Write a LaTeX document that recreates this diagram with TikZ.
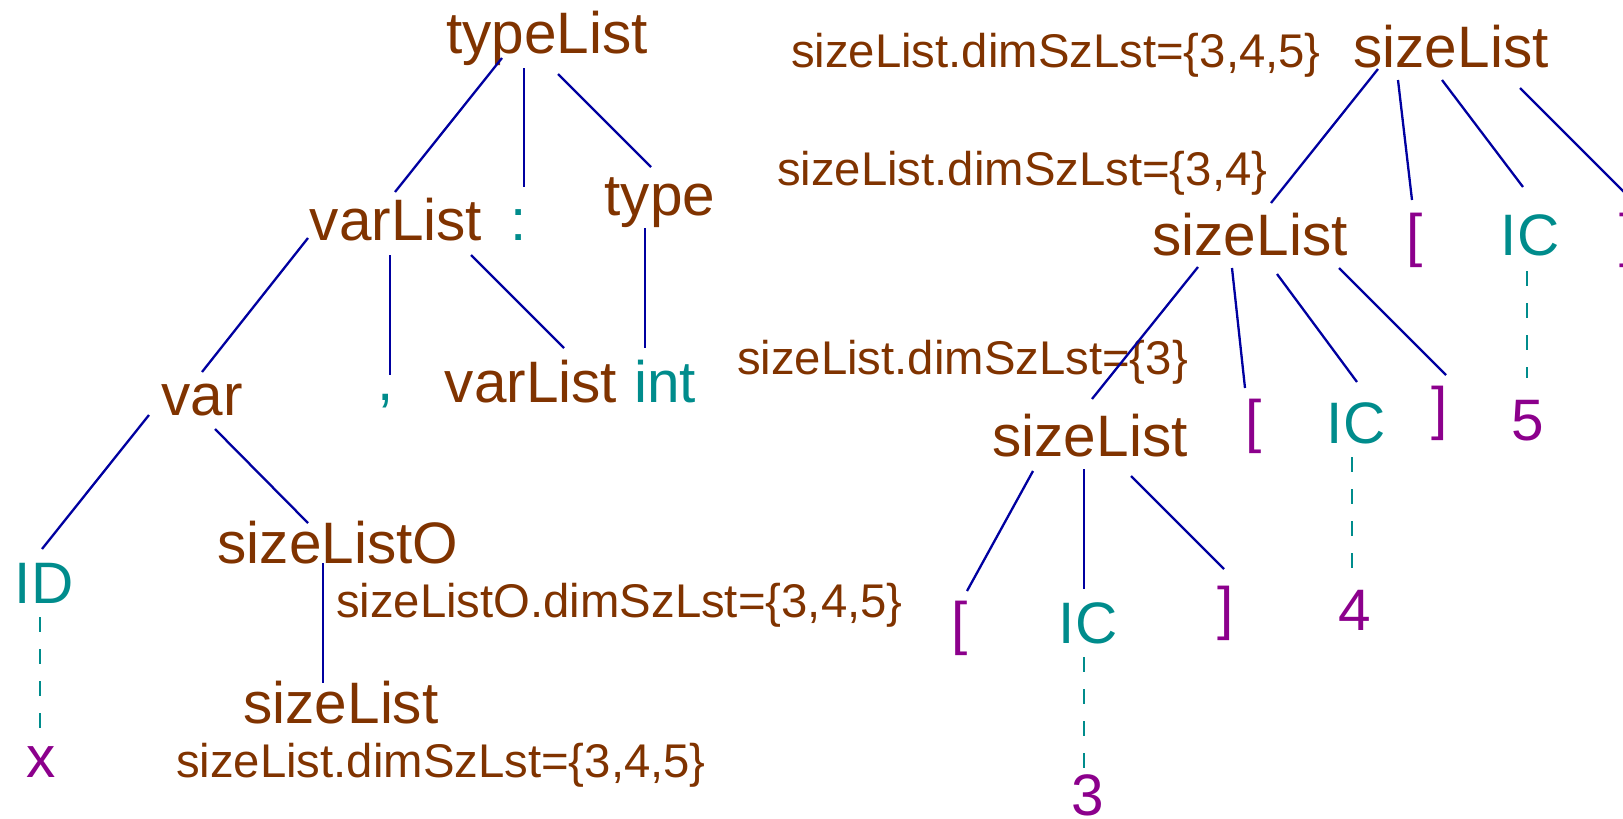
\documentclass[tikz,border=0pt]{standalone}
\usepackage{fontspec}
\setmainfont{Liberation Sans}
\definecolor{ntbrown}{RGB}{128,51,0}
\definecolor{tokteal}{RGB}{0,140,140}
\definecolor{lexpurple}{RGB}{140,0,140}
\definecolor{edgeblue}{RGB}{0,0,160}
\tikzset{
  sym/.style={inner sep=0pt, outer sep=0pt, anchor=base, font=\fontsize{29.25pt}{30pt}\selectfont},
  nt/.style={sym, text=ntbrown},
  tok/.style={sym, text=tokteal},
  lex/.style={sym, text=lexpurple},
  attr/.style={inner sep=0pt, outer sep=0pt, anchor=base west, text=ntbrown,
    font=\fontsize{23.65pt}{24pt}\selectfont},
  edge/.style={draw=edgeblue, line width=1.15pt},
  lexedge/.style={draw=tokteal, line width=0.9pt, dash pattern=on 7.5pt off 8.5pt},
}
\begin{document}
\begin{tikzpicture}[x=0.5pt, y=-0.5pt]
\useasboundingbox (0,0) rectangle (1623,819);

% ---- declaration tree ----
\node[nt]  (typeList)  at (547,54)  {typeList};
\node[nt]  (varListA)  at (396,240) {varList};
\node[tok] (colon)     at (519,240) {:};
\node[nt]  (type)      at (660,215) {type};
\node[nt]  (var)       at (202,415) {var};
\node[tok] (comma)     at (386,400) {,};
\node[nt]  (varListB)  at (531,402) {varList};
\node[tok] (int)       at (665,402) {int};
\node[tok] (ID)        at (44,603)  {ID};
\node[nt]  (sizeListO) at (338,563) {sizeListO};
\node[lex] (xval)      at (41,777)  {x};
\node[nt]  (sizeListL) at (341,723) {sizeList};
\node[attr] (attrO) at (336,617) {sizeListO.dimSzLst=\{3,4,5\}};
\node[attr] (attrL) at (176,777) {sizeList.dimSzLst=\{3,4,5\}};

% ---- dimension list tree ----
\node[attr] (attrA) at (791,68)  {sizeList.dimSzLst=\{3,4,5\}};
\node[attr] (attrB) at (777,185) {sizeList.dimSzLst=\{3,4\}};
\node[attr] (attrC) at (737,374) {sizeList.dimSzLst=\{3\}};
\node[nt]  (S1)   at (1451,68)  {sizeList};
\node[nt]  (S2)   at (1250,255) {sizeList};
\node[lex] (lbA)  at (1415,255) {[};
\node[tok] (ICA)  at (1530,255) {IC};
\node[lex] (rbA)  at (1628,255) {]};
\node[lex] (five) at (1528,440) {5};
\node[nt]  (S3)   at (1090,456) {sizeList};
\node[lex] (lbB)  at (1254,441) {[};
\node[tok] (ICB)  at (1356,443) {IC};
\node[lex] (rbB)  at (1440,428) {]};
\node[lex] (four) at (1355,630) {4};
\node[lex] (lbC)  at (960,643)  {[};
\node[tok] (ICC)  at (1088,643) {IC};
\node[lex] (rbC)  at (1226,628) {]};
\node[lex] (three) at (1088,815) {3};

% ---- branches of the declaration tree ----
\draw[edge] ([shift={(-45,4)}]typeList.base) -- ([shift={(-1,-48)}]varListA.base);
\draw[edge] ([shift={(-23,14)}]typeList.base) -- ([shift={(5,-53)}]colon.base);
\draw[edge] ([shift={(11,20)}]typeList.base) -- ([shift={(-9,-48)}]type.base);
\draw[edge] ([shift={(-15,13)}]type.base) -- ([shift={(-20,-54)}]int.base);
\draw[edge] ([shift={(-88,-2)}]varListA.base) -- ([shift={(0,-43)}]var.base);
\draw[edge] ([shift={(-6,15)}]varListA.base) -- ([shift={(4,-25)}]comma.base);
\draw[edge] ([shift={(75,15)}]varListA.base) -- ([shift={(33,-54)}]varListB.base);
\draw[edge] ([shift={(-53,0)}]var.base) -- ([shift={(-2,-54)}]ID.base);
\draw[edge] ([shift={(13,14)}]var.base) -- ([shift={(-30,-40)}]sizeListO.base);
\draw[edge] ([shift={(-15,0)}]sizeListO.base) -- ([shift={(-18,-40)}]sizeListL.base);
\draw[lexedge] ([shift={(-4,14)}]ID.base) -- ([shift={(-1,-49)}]xval.base);

% ---- branches of the dimension list tree ----
\draw[edge] ([shift={(-73,1)}]S1.base) -- ([shift={(21,-52)}]S2.base);
\draw[edge] ([shift={(-53,12)}]S1.base) -- ([shift={(-3,-55)}]lbA.base);
\draw[edge] ([shift={(-9,12)}]S1.base) -- ([shift={(-7,-68)}]ICA.base);
\draw[edge] ([shift={(69,20)}]S1.base) -- ([shift={(-2,-61)}]rbA.base);
\draw[lexedge] ([shift={(-3,16)}]ICA.base) -- ([shift={(-1,-62)}]five.base);
\draw[edge] ([shift={(-52,12)}]S2.base) -- ([shift={(2,-57)}]S3.base);
\draw[edge] ([shift={(-18,13)}]S2.base) -- ([shift={(-9,-53)}]lbB.base);
\draw[edge] ([shift={(27,19)}]S2.base) -- ([shift={(1,-61)}]ICB.base);
\draw[edge] ([shift={(89,13)}]S2.base) -- ([shift={(6,-53)}]rbB.base);
\draw[lexedge] ([shift={(-4,14)}]ICB.base) -- ([shift={(-3,-62)}]four.base);
\draw[edge] ([shift={(-57,15)}]S3.base) -- ([shift={(7,-52)}]lbC.base);
\draw[edge] ([shift={(-6,13)}]S3.base) -- ([shift={(-4,-54)}]ICC.base);
\draw[edge] ([shift={(41,20)}]S3.base) -- ([shift={(-2,-59)}]rbC.base);
\draw[lexedge] ([shift={(-4,14)}]ICC.base) -- ([shift={(-4,-47)}]three.base);
\end{tikzpicture}
\end{document}
